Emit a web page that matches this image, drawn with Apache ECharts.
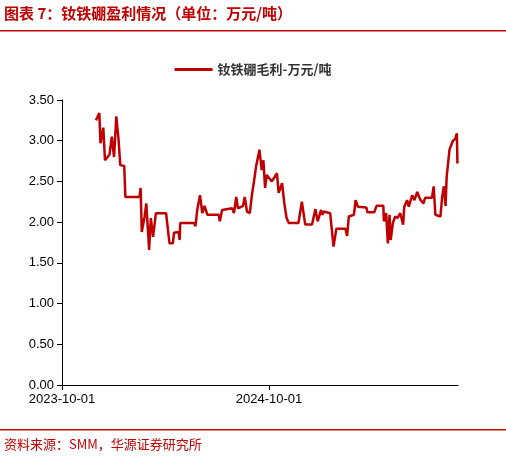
<!DOCTYPE html><html><head><meta charset="utf-8"><script src="https://cdn.jsdelivr.net/npm/echarts@6/dist/echarts.min.js"></script>
<style>body{margin:0}#c{width:506px;height:463px}</style></head><body><div id="c"></div><script>
const dates=["2023-11-30","2023-12-06","2023-12-08","2023-12-13","2023-12-16","2023-12-24","2023-12-28","2024-01-01","2024-01-05","2024-01-09","2024-01-12","2024-01-19","2024-01-21","2024-02-15","2024-02-17","2024-02-19","2024-02-24","2024-02-27","2024-03-03","2024-03-06","2024-03-10","2024-03-15","2024-04-02","2024-04-08","2024-04-14","2024-04-16","2024-04-24","2024-04-26","2024-04-27","2024-05-21","2024-05-24","2024-05-27","2024-06-01","2024-06-05","2024-06-09","2024-06-14","2024-07-04","2024-07-06","2024-07-10","2024-07-28","2024-07-31","2024-08-04","2024-08-07","2024-08-16","2024-08-19","2024-08-23","2024-08-28","2024-09-01","2024-09-04","2024-09-08","2024-09-14","2024-09-18","2024-09-21","2024-09-24","2024-09-27","2024-10-06","2024-10-15","2024-10-18","2024-10-24","2024-10-28","2024-11-01","2024-11-05","2024-11-22","2024-11-28","2024-12-04","2024-12-16","2024-12-22","2024-12-26","2025-01-01","2025-01-03","2025-01-06","2025-01-17","2025-01-23","2025-01-28","2025-02-13","2025-02-16","2025-02-19","2025-02-28","2025-03-03","2025-03-07","2025-03-22","2025-03-24","2025-04-05","2025-04-09","2025-04-21","2025-04-22","2025-04-26","2025-04-29","2025-05-02","2025-05-04","2025-05-08","2025-05-12","2025-05-16","2025-05-21","2025-05-26","2025-05-28","2025-06-02","2025-06-05","2025-06-11","2025-06-15","2025-06-20","2025-06-25","2025-07-01","2025-07-04","2025-07-16","2025-07-19","2025-07-22","2025-07-31","2025-08-03","2025-08-06","2025-08-09","2025-08-11","2025-08-16","2025-08-22","2025-08-26","2025-08-29","2025-08-30"];
const values=[3.25,3.34,2.97,3.16,2.76,2.83,3.05,2.80,3.30,3.01,2.70,2.69,2.31,2.31,2.42,1.88,2.07,2.23,1.66,2.05,1.82,2.11,2.11,1.74,1.74,1.87,1.88,1.78,1.99,1.99,1.95,2.15,2.33,2.11,2.20,2.09,2.09,2.01,2.15,2.17,2.11,2.31,2.17,2.20,2.31,2.13,2.11,2.35,2.48,2.68,2.89,2.64,2.76,2.42,2.58,2.50,2.60,2.36,2.48,2.23,2.05,1.99,1.99,2.25,1.97,1.97,2.16,2.01,2.15,2.09,2.13,2.11,1.70,1.92,1.92,1.83,2.07,2.09,2.27,2.19,2.18,2.12,2.12,2.20,2.20,2.01,2.11,1.74,2.09,1.78,1.99,2.07,2.05,2.11,1.97,2.19,2.27,2.19,2.33,2.27,2.37,2.28,2.23,2.30,2.30,2.44,2.09,2.07,2.31,2.44,2.20,2.56,2.89,3.00,3.02,3.09,2.72];
const seriesName="钕铁硼毛利-万元/吨";
const xStart="2023-10-01";
const DAY=86400000;
const ms=s=>Date.parse(s+"T00:00:00Z");
const dayOf=s=>Math.round((ms(s)-ms(xStart))/DAY);
const fmt=d=>new Date(ms(xStart)+d*DAY).toISOString().slice(0,10);
const ch=echarts.init(document.getElementById('c'));
ch.setOption({
 animation:false,
 textStyle:{fontFamily:"Noto Sans CJK SC"},
 graphic:[
  {type:'text',left:4,top:6,style:{text:"图表 7：钕铁硼盈利情况（单位：万元/吨）",fill:'#c00000',font:'bold 15px "Noto Sans CJK SC"'}},
  {type:'rect',shape:{x:0,y:30,width:506,height:1.5},style:{fill:'#c00000'}},
  {type:'rect',shape:{x:0,y:429,width:506,height:1.5},style:{fill:'#c00000'}},
  {type:'text',left:4,top:438,style:{text:"资料来源：SMM，华源证券研究所",fill:'#c00000',font:'13px "Noto Sans CJK SC"'}}
 ],
 legend:{top:58,left:'center',itemWidth:38,itemHeight:3,textStyle:{fontSize:13,fontWeight:'bold',color:'#333'},data:[{name:seriesName,icon:'rect'}]},
 grid:{left:62,right:48,top:100,bottom:78},
 xAxis:{type:'value',min:0,max:dayOf("2025-08-31"),interval:366,
  axisLine:{lineStyle:{color:'#000'}},axisTick:{show:true,lineStyle:{color:'#000'}},
  axisLabel:{formatter:v=>fmt(v),color:'#000',fontSize:13,fontFamily:'Liberation Sans',showMaxLabel:false},
  splitLine:{show:false}},
 yAxis:{type:'value',min:0,max:3.5,interval:0.5,
  axisLine:{show:true,lineStyle:{color:'#000'}},axisTick:{show:true,lineStyle:{color:'#000'}},
  axisLabel:{formatter:v=>v.toFixed(2),color:'#000',fontSize:13,fontFamily:'Liberation Sans'},splitLine:{show:false}},
 series:[{name:seriesName,type:'line',showSymbol:false,lineStyle:{color:'#c00000',width:2.5},itemStyle:{color:'#c00000'},
  data:dates.map((d,i)=>[dayOf(d),values[i]])}]
});
</script></body></html>
